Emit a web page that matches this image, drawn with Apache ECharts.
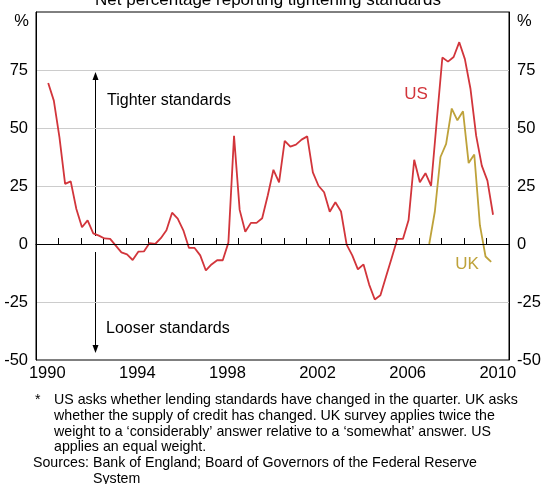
<!DOCTYPE html>
<html>
<head>
<meta charset="utf-8">
<script src="https://cdn.jsdelivr.net/npm/echarts@6/dist/echarts.min.js"></script>
<style>
  html, body { margin: 0; padding: 0; background: #fff; }
  #main { width: 544px; height: 484px; }
</style>
</head>
<body>
<div id="main"></div>
<script>
// year labels along the bottom (one band per year)
const years = ['1990','1991','1992','1993','1994','1995','1996','1997','1998','1999','2000',
  '2001','2002','2003','2004','2005','2006','2007','2008','2009','2010'];

// US: quarterly survey, first one July 1990
const usStart = [1990, 7];
const usValues = [69.4, 61.8,
  46, 25.9, 27, 15.1,
  7.2, 10.2, 4.6, 3.6,
  2.4, 2.2, -0.7, -3.6,
  -4.5, -6.9, -3.3, -3.2,
  0.4, 0, 2.5, 5.9,
  13.5, 10.9, 5.9, -1.7,
  -1.7, -4.9, -11.4, -8.8,
  -7, -7, 0.6, 46.6,
  14.7, 5.3, 9.1, 9.1,
  11.1, 21, 32, 26.6,
  44.5, 42, 42.8, 45,
  46.4, 30.9, 25.1, 22.3,
  13.9, 18, 14, -0.3,
  -4.9, -10.9, -8.8, -17.5,
  -23.9, -22.1, -14, -6,
  2.2, 2.2, 10.3, 36.3,
  26.6, 30.5, 25.1, 53,
  80.4, 78.6, 80.6, 87,
  79.7, 66.8, 46.7, 33.8,
  27.3, 12.6];

// UK: quarterly survey, first one June 2007
const ukStart = [2007, 6];
const ukValues = [0, 14, 37.5, 43.2, 58.4, 53.3, 57.2, 34.9, 38.6, 8.1, -5.4, -7.7];

const footLines = [
  'US asks whether lending standards have changed in the quarter. UK asks',
  'whether the supply of credit has changed. UK survey applies twice the',
  'weight to a \u2018considerably\u2019 answer relative to a \u2018somewhat\u2019 answer. US',
  'applies an equal weight.'
];

const RED = '#d2353b';
const GOLD = '#bea23a';
const FONT = 'Arial, "Liberation Sans", sans-serif';

function toPairs(start, vals) {
  let t0 = start[0] + (start[1] - 0.5) / 12;
  return vals.map((v, i) => [t0 + i * 0.25, v]);
}

let myChart = echarts.init(document.getElementById('main'));

let yCommon = {
  type: 'value',
  min: -50,
  max: 100,
  interval: 25,
  axisLine: { show: true, lineStyle: { color: '#000', width: 1 } },
  axisTick: { show: false },
  axisLabel: {
    color: '#000', fontSize: 16.5, fontFamily: FONT, margin: 8,
    formatter: v => (v === 100 ? '' : String(v))
  },
  splitLine: { show: true, showMinLine: false, showMaxLine: false,
    lineStyle: { color: '#cccccc', width: 1 } }
};

function txt(text, x, y, size, color, align) {
  return { type: 'text', style: { text: text, x: x, y: y, align: align || 'left', verticalAlign: 'middle',
    fontSize: size, fontFamily: FONT, fill: color || '#000' } };
}

let graphics = [
  { type: 'text', style: { text: 'Net percentage reporting tightening standards',
    x: 268, y: 9, align: 'center', verticalAlign: 'bottom', fontSize: 17, fontFamily: FONT, fill: '#000' } },
  txt('%', 29, 21, 16.5, '#000', 'right'),
  txt('%', 517, 21, 16.5),
  txt('Tighter standards', 107, 101, 16),
  txt('Looser standards', 106, 329, 16),
  txt('US', 416, 94, 17, RED, 'center'),
  txt('UK', 467, 264, 17, GOLD, 'center'),
  // arrows
  { type: 'line', shape: { x1: 95.5, y1: 236, x2: 95.5, y2: 78 }, style: { stroke: '#000', lineWidth: 1 } },
  { type: 'polygon', shape: { points: [[95.5, 72], [92.5, 80], [98.5, 80]] }, style: { fill: '#000' } },
  { type: 'line', shape: { x1: 95.5, y1: 252, x2: 95.5, y2: 346 }, style: { stroke: '#000', lineWidth: 1 } },
  { type: 'polygon', shape: { points: [[95.5, 353], [92.5, 345], [98.5, 345]] }, style: { fill: '#000' } },
  // footnote
  txt('*', 35, 400, 14.2)
];
footLines.forEach((t, i) => {
  graphics.push(txt(t, 54, 400 + i * 15.8, 14.2));
});
graphics.push(txt('Sources: Bank of England; Board of Governors of the Federal Reserve', 33, 400 + 4 * 15.8, 14.2));
graphics.push(txt('System', 93, 400 + 5 * 15.8, 14.2));

let option = {
  animation: false,
  backgroundColor: '#fff',
  grid: {
    left: 36, right: 35, top: 12, bottom: 124,
    show: true, borderColor: '#000', borderWidth: 1, backgroundColor: 'transparent'
  },
  xAxis: [
    {
      type: 'category',
      data: years,
      boundaryGap: true,
      position: 'bottom',
      axisLine: { show: true, lineStyle: { color: '#000', width: 1 } },
      axisTick: { show: true, inside: true, length: 6, interval: 0, lineStyle: { color: '#000' } },
      axisLabel: { interval: 3, color: '#000', fontSize: 16.5, fontFamily: FONT, margin: 5 },
      splitLine: { show: false }
    },
    {
      type: 'value',
      min: 1990,
      max: 2011,
      show: false
    }
  ],
  yAxis: [
    Object.assign({ position: 'left' }, yCommon),
    Object.assign({ position: 'right' }, yCommon)
  ],
  graphic: graphics,
  series: [
    {
      name: 'US',
      type: 'line',
      xAxisIndex: 1,
      yAxisIndex: 0,
      data: toPairs(usStart, usValues),
      symbol: 'none',
      lineStyle: { color: RED, width: 1.8 },
      itemStyle: { color: RED },
      markLine: {
        silent: true,
        symbol: 'none',
        label: { show: false },
        lineStyle: { color: '#000', width: 1, type: 'solid' },
        data: [{ yAxis: 0 }]
      },
      z: 3
    },
    {
      name: 'UK',
      type: 'line',
      xAxisIndex: 1,
      yAxisIndex: 0,
      data: toPairs(ukStart, ukValues),
      symbol: 'none',
      lineStyle: { color: GOLD, width: 1.8 },
      itemStyle: { color: GOLD },
      z: 3
    }
  ]
};

myChart.setOption(option);
</script>
</body>
</html>
